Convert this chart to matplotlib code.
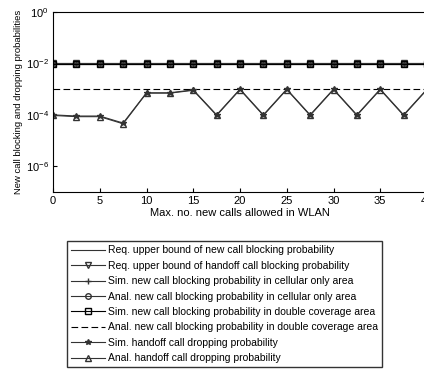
import matplotlib
matplotlib.use("Agg")
import matplotlib.pyplot as plt
import matplotlib.ticker as ticker

# Data
x_calls = [0, 2.5, 5, 7.5, 10, 12.5, 15, 17.5, 20, 22.5, 25, 27.5, 30, 32.5, 35, 37.5, 40]
req_new_bound = [1e-2] * len(x_calls)
req_handoff_bound = [1e-2] * len(x_calls)
sim_new_cell = [9.6e-3] * len(x_calls)
anal_new_cell = [9.5e-3] * len(x_calls)
sim_new_double = [9.4e-3] * len(x_calls)
anal_new_double = [1e-3] * len(x_calls)
sim_handoff_drop = [1e-4, 9e-5, 9e-5, 4.8e-5, 7.2e-4, 7.2e-4, 9.4e-4, 1e-4, 1e-3, 1e-4,
                    1e-3, 1e-4, 1e-3, 1e-4, 1e-3, 1e-4, 1e-3]
anal_handoff_drop = [9.5e-5, 8.5e-5, 8.5e-5, 4.5e-5, 7e-4, 7e-4, 9e-4, 9.5e-5, 9.6e-4, 9.5e-5,
                     9.6e-4, 9.5e-5, 9.6e-4, 9.5e-5, 9.6e-4, 9.5e-5, 9.6e-4]

legend_labels = [
    "Req. upper bound of new call blocking probability",
    "Req. upper bound of handoff call blocking probability",
    "Sim. new call blocking probability in cellular only area",
    "Anal. new call blocking probability in cellular only area",
    "Sim. new call blocking probability in double coverage area",
    "Anal. new call blocking probability in double coverage area",
    "Sim. handoff call dropping probability",
    "Anal. handoff call dropping probability",
]

plt.rcParams['font.family'] = ['Liberation Sans', 'DejaVu Sans']
fig = plt.figure(figsize=(4.24, 3.79), dpi=100)
ax = fig.add_axes([53 / 424, 1 - 192 / 379, (427 - 53) / 424, (192 - 12) / 379])

ms = 4
lw = 0.8
col = "#333333"
h = []
h += ax.plot(x_calls, req_new_bound, "-", color=col, lw=lw)
h += ax.plot(x_calls, req_handoff_bound, "-v", color=col, lw=lw, ms=ms, mfc="none")
h += ax.plot(x_calls, sim_new_cell, "-+", color=col, lw=lw, ms=ms)
h += ax.plot(x_calls, anal_new_cell, "-o", color=col, lw=lw, ms=ms, mfc="none")
h += ax.plot(x_calls, sim_new_double, "-s", color="black", lw=lw, ms=ms, mfc="none")
h += ax.plot(x_calls, anal_new_double, "--", color="black", lw=lw, dashes=(6, 3))
h += ax.plot(x_calls, sim_handoff_drop, "-*", color=col, lw=lw, ms=ms)
h += ax.plot(x_calls, anal_handoff_drop, "-^", color=col, lw=lw, ms=ms, mfc="none")

ax.set_yscale("log")
ax.set_ylim(1e-7, 1e0)
ax.set_xlim(0, 40)
ax.set_xticks(range(0, 45, 5))
ax.yaxis.set_major_locator(ticker.FixedLocator([1e0, 1e-2, 1e-4, 1e-6]))
ax.yaxis.set_minor_locator(ticker.NullLocator())
ax.tick_params(direction="in", labelsize=8, length=3, pad=3)
ax.set_xlabel("Max. no. new calls allowed in WLAN", fontsize=8, labelpad=1)
ax.set_ylabel("New call blocking and dropping probabilities", fontsize=6.8, labelpad=2)

fig.legend(h, legend_labels, loc="upper left", bbox_to_anchor=(62 / 424, 1 - 236 / 379),
           fontsize=7.5, frameon=True, fancybox=False, edgecolor="black",
           handlelength=3.2, labelspacing=0.52, borderpad=0.4, handletextpad=0.3)

fig.savefig("out.png", dpi=100)
